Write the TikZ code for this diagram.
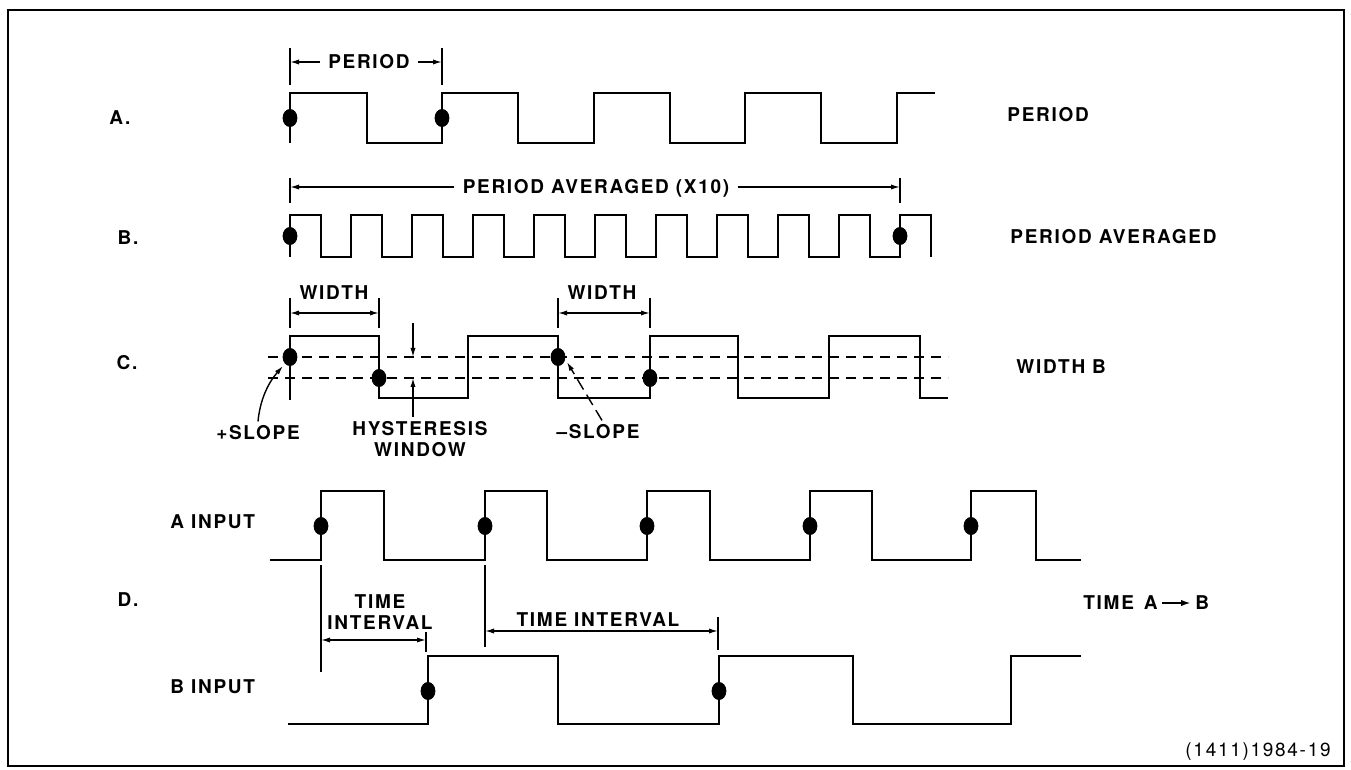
\documentclass[tikz,border=0pt]{standalone}
\usepackage{fontspec}
\setmainfont{TeX Gyre Heros}[LetterSpace=9]
\usetikzlibrary{arrows.meta}

\tikzset{
  wave/.style={line width=1.3pt},
  bar/.style={line width=0.7pt},
  dimarrow/.style={line width=0.7pt, -{Latex[length=4.5pt,width=2.6pt]}},
  dimboth/.style={line width=0.7pt, {Latex[length=4.5pt,width=2.6pt]}-{Latex[length=4.5pt,width=2.6pt]}},
  thresh/.style={line width=0.9pt, dash pattern=on 5pt off 3.5pt},
  lbl/.style={font=\fontsize{9.5}{10.5}\selectfont\bfseries, inner sep=2pt, align=center},
  dimlbl/.style={lbl, inner sep=4pt, text height=6.8pt, text depth=0pt},
}
\newcommand{\trigdot}[1]{\fill #1 ellipse [x radius=3.7pt, y radius=4.5pt];}

\begin{document}
\begin{tikzpicture}[x=0.5pt,y=-0.5pt]
\useasboundingbox (0,0) rectangle (1351,770);

% Draw the frame
\draw[line width=1.4pt] (8,10) rectangle (1344,766);

% Row letters
\node[lbl] (rowA) at (120,118) {A.};
\node[lbl] (rowB) at (128,238) {B.};
\node[lbl] (rowC) at (127,363) {C.};
\node[lbl] (rowD) at (128,600) {D.};

% Mode names
\node[lbl, anchor=west] (modeA) at (1003,115) {PERIOD};
\node[lbl, anchor=west] (modeB) at (1006,237) {PERIOD AVERAGED};
\node[lbl, anchor=west] (modeC) at (1012,367) {WIDTH B};
\node[lbl, anchor=west] (modeD) at (1079,603) {TIME\hspace{5pt}A};
\node[lbl, anchor=west] (modeDb) at (1191,603) {B};
\draw[line width=1pt, -{Latex[length=5pt,width=3.2pt]}] (modeD) -- (modeDb);

% A. period
\draw[wave] (290,143) |- (367,93) |- (442,143) |- (518,93) |- (594,143)
  |- (670,93) |- (745,143) |- (821,93) |- (897,143) |- (935,93);
\trigdot{(290,118)}
\trigdot{(442,118)}

% Period dimension
\draw[bar] (290,48) -- (290,85);
\draw[bar] (442,48) -- (442,85);
\coordinate (perL) at (290,62);
\coordinate (perR) at (442,62);
\node[dimlbl] (perTxt) at (369,62) {PERIOD};
\draw[dimarrow] (perTxt) -- (perL);
\draw[dimarrow] (perTxt) -- (perR);

% B. period averaged
\draw[wave] (290,257) |- (321,215) |- (351,257) |- (382,215) |- (412,257)
  |- (443,215) |- (473,257) |- (504,215) |- (534,257) |- (565,215)
  |- (595,257) |- (626,215) |- (656,257) |- (687,215) |- (717,257)
  |- (748,215) |- (778,257) |- (809,215) |- (839,257) |- (870,215)
  |- (900,257) |- (931,215) -- (931,257);
\trigdot{(290,236)}
\trigdot{(900,236)}

% Averaged dimension
\draw[bar] (290,178) -- (290,203);
\draw[bar] (900,178) -- (900,203);
\coordinate (avgL) at (290,187);
\coordinate (avgR) at (900,187);
\node[dimlbl] (avgTxt) at (596,187) {PERIOD AVERAGED (X10)};
\draw[dimarrow] (avgTxt) -- (avgL);
\draw[dimarrow] (avgTxt) -- (avgR);

% C. width
\draw[thresh] (268,357) -- (948,357);
\draw[thresh] (268,378) -- (948,378);
\draw[wave] (290,400) |- (379,336) |- (468,398) |- (558,336) |- (650,398)
  |- (738,336) |- (829,398) |- (920,336) |- (948,398);
\trigdot{(290,357)}
\trigdot{(379,378)}
\trigdot{(558,357)}
\trigdot{(650,378)}

% Width dimensions
\draw[bar] (290,298) -- (290,328);
\draw[bar] (379,298) -- (379,328);
\draw[bar] (558,298) -- (558,328);
\draw[bar] (650,298) -- (650,328);
\coordinate (wAL) at (290,313);
\coordinate (wAR) at (379,313);
\coordinate (wBL) at (558,313);
\coordinate (wBR) at (650,313);
\draw[dimboth] (wAL) -- (wAR);
\draw[dimboth] (wBL) -- (wBR);
\node[lbl] (wATxt) at (334,293) {WIDTH};
\node[lbl] (wBTxt) at (602,293) {WIDTH};

% Hysteresis window
\coordinate (hysHi) at (413,323);
\coordinate (hysTop) at (413,357);
\coordinate (hysBot) at (413,378);
\node[lbl] (hysTxt) at (420,439) {HYSTERESIS\\WINDOW};
\draw[dimarrow] (hysHi) -- (hysTop);
\draw[dimarrow] (hysTxt.north -| hysBot) -- (hysBot);

% Slopes
\coordinate (plusTip) at (283,366);
\coordinate (minusTip) at (567,362);
\node[lbl] (plusTxt) at (258,433) {+SLOPE};
\node[lbl] (minusTxt) at (598,432) {–SLOPE};
\draw[dimarrow] (plusTxt.north) .. controls (260,400) and (268,383) .. (plusTip);
\draw[dimarrow, dash pattern=on 6pt off 3pt] ([xshift=2pt]minusTxt.north) -- (minusTip);

% D. time interval
\node[lbl, anchor=west] (inA) at (166,522) {A INPUT};
\node[lbl, anchor=west] (inB) at (166,687) {B INPUT};
\draw[wave] (270,560) -| (321,491) -| (384,560) -| (485,491) -| (547,560)
  -| (647,491) -| (710,560) -| (810,491) -| (872,560) -| (971,491)
  -| (1036,560) -- (1081,560);
\draw[wave] (288,724) -| (428,656) -| (558,724) -| (719,656) -| (853,724)
  -| (1011,656) -- (1081,656);
\trigdot{(321,526)}
\trigdot{(485,526)}
\trigdot{(647,526)}
\trigdot{(810,526)}
\trigdot{(971,526)}
\trigdot{(428,691)}
\trigdot{(719,691)}

% Interval dimensions
\draw[bar] (321,565) -- (321,672);
\draw[bar] (485,565) -- (485,647);
\draw[bar] (426,632) -- (426,652);
\draw[bar] (718,617) -- (718,650);
\coordinate (tiAL) at (321,640);
\coordinate (tiAR) at (426,640);
\coordinate (tiBL) at (485,631);
\coordinate (tiBR) at (718,631);
\draw[dimboth] (tiAL) -- (tiAR);
\draw[dimboth] (tiBL) -- (tiBR);
\node[lbl] (tiATxt) at (380,612) {TIME\\INTERVAL};
\node[lbl] (tiBTxt) at (598,620) {TIME INTERVAL};

% Figure number
\node[font=\fontsize{9.5}{10.5}\selectfont, anchor=east, inner sep=0pt] (figNo) at (1331,752) {(1411)1984-19};

\end{tikzpicture}
\end{document}
